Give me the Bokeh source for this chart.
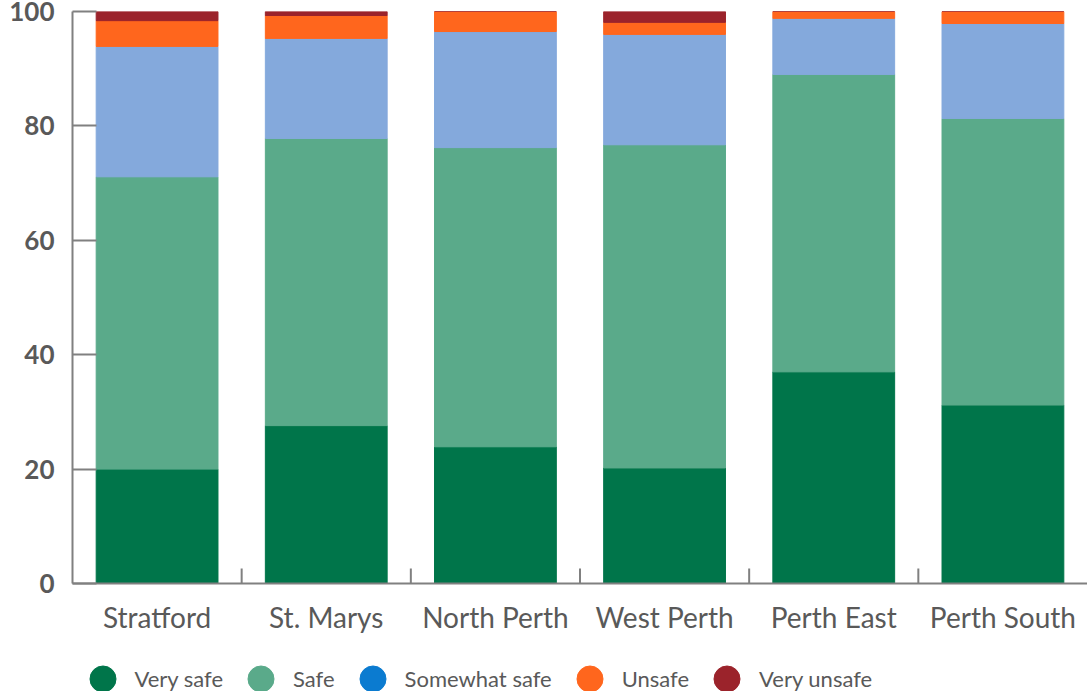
import numpy as np
from bokeh.plotting import figure
from bokeh.layouts import column
from bokeh.models import (ColumnDataSource, FactorRange, Range1d, LinearAxis,
                          FixedTicker, Legend, LegendItem, CategoricalAxis)
from bokeh.transform import dodge
from bokeh.embed import file_html
from bokeh.resources import INLINE

categories = ["Stratford", "St. Marys", "North Perth", "West Perth", "Perth East", "Perth South"]
very_safe = [20.0, 27.6, 23.9, 20.2, 37.0, 31.2]
safe = [51.1, 50.2, 52.3, 56.5, 52.0, 50.1]
somewhat_safe = [22.8, 17.5, 20.3, 19.3, 9.8, 16.6]
unsafe = [4.5, 4.0, 3.5, 2.1, 1.2, 2.1]
very_unsafe = [1.6, 0.7, 0.0, 1.9, 0.0, 0.0]
series_names = ["Very safe", "Safe", "Somewhat safe", "Unsafe", "Very unsafe"]
y_ticks = [0, 20, 40, 60, 80, 100]

bar_colors = ["#00754a", "#5aaa8a", "#84a9dc", "#ff661d", "#9b232b"]
legend_colors = ["#00754a", "#5aaa8a", "#0b7bd0", "#ff661d", "#9b232b"]
axis_color = "#808080"
text_color = "#595959"

keys = ["vs", "s", "sw", "u", "vu"]
source = ColumnDataSource(dict(cat=categories, vs=very_safe, s=safe, sw=somewhat_safe,
                               u=unsafe, vu=very_unsafe))

p = figure(x_range=FactorRange(*categories), y_range=Range1d(y_ticks[0], y_ticks[-1]),
           width=1087, height=640, output_backend="svg", toolbar_location=None,
           x_axis_location=None, y_axis_location=None,
           min_border_left=72, min_border_right=0, min_border_top=11, min_border_bottom=57)
p.outline_line_color = None
p.xgrid.visible = False
p.ygrid.visible = False

p.vbar_stack(keys, x="cat", width=0.72, color=bar_colors, source=source)

# inward x ticks at the boundaries between categories
xtick_src = ColumnDataSource(dict(x=categories[:-1], y=[y_ticks[0]] * (len(categories) - 1)))
p.scatter(x=dodge("x", 0.5, range=p.x_range), y="y", source=xtick_src, marker="dash",
          angle=np.pi / 2, size=30, line_color=axis_color, line_width=2)

yaxis = LinearAxis(ticker=FixedTicker(ticks=y_ticks), minor_tick_line_color=None,
                   major_tick_in=24, major_tick_out=0,
                   axis_line_color=axis_color, axis_line_width=2,
                   major_tick_line_color=axis_color, major_tick_line_width=2,
                   major_label_standoff=18,
                   major_label_text_font="Lato", major_label_text_font_style="bold",
                   major_label_text_font_size="26px", major_label_text_color=text_color)
p.add_layout(yaxis, "left")

cat_axis = CategoricalAxis(axis_line_color=axis_color, axis_line_width=2,
                           major_tick_line_color=None, major_tick_in=0, major_tick_out=0,
                           major_label_standoff=16,
                           major_label_text_font="Lato", major_label_text_font_size="28px",
                           major_label_text_color=text_color)
p.add_layout(cat_axis, "below")

# legend strip underneath (its own small figure); proxy markers sit outside its ranges
leg = figure(width=1087, height=51, output_backend="svg", toolbar_location=None,
             x_range=Range1d(0, 1), y_range=Range1d(0, 1),
             x_axis_location=None, y_axis_location=None,
             min_border_left=0, min_border_right=0, min_border_top=0, min_border_bottom=0)
leg.outline_line_color = None
leg.xgrid.visible = False
leg.ygrid.visible = False
items = []
for name, col in zip(series_names, legend_colors):
    r = leg.scatter(x=[-5], y=[-5], marker="circle", size=26, color=col)
    items.append(LegendItem(label=name, renderers=[r]))
legend = Legend(items=items, orientation="horizontal", location=(-2.5, -19.5),
                glyph_width=65, glyph_height=65, label_standoff=0, spacing=5,
                padding=0, margin=0, border_line_color=None, background_fill_alpha=0,
                label_text_font="Lato", label_text_font_size="22px",
                label_text_color=text_color)
leg.add_layout(legend)

layout = column(p, leg, spacing=0)
open("out.html", "w").write(file_html(layout, INLINE))
